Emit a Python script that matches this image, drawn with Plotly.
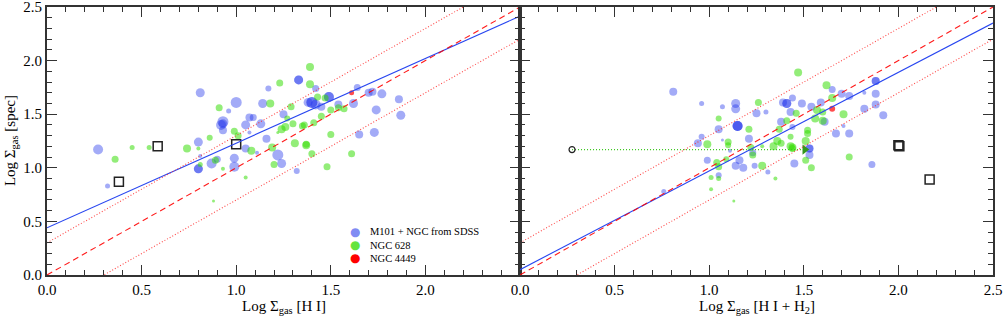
import plotly.graph_objects as go

# ---------------- data ----------------
# Left panel: x = Log Sigma_gas [H I], y = Log Sigma_gas [spec]; w = point weight (marker scale)
hi_sdss_x = [0.27,0.32,0.80,0.81,1.00,0.96,0.93,0.93,0.92,0.93,1.05,1.07,1.09,1.13,1.07,1.14,1.17,1.25,1.33,1.33,
             1.38,1.16,1.05,1.11,1.22,1.24,1.32,0.99,0.90,0.87,0.99,0.80,0.80,0.81,1.42,1.40,1.40,1.49,1.49,1.42,
             1.45,1.54,1.62,1.64,1.70,1.72,1.77,1.86,1.87,1.74,1.65,1.73]
hi_sdss_y = [1.17,0.83,1.24,1.70,1.61,1.53,1.43,1.41,1.40,1.35,1.40,1.47,1.47,1.41,1.33,1.60,1.74,1.50,1.82,1.82,
             1.61,1.27,1.18,1.14,1.12,1.04,0.97,1.09,1.08,1.04,1.01,0.99,0.99,1.11,1.74,1.61,1.61,1.66,1.66,1.59,
             1.57,1.59,1.60,1.75,1.70,1.71,1.69,1.64,1.49,1.54,1.31,1.33]
hi_sdss_w = [1.0,0.5,0.9,0.9,1.1,0.5,1.1,0.9,1.0,0.8,0.9,0.8,0.7,0.9,0.4,0.9,0.6,0.8,0.9,0.9,
             0.9,0.8,0.8,0.4,1.1,0.9,0.6,0.9,0.7,1.0,1.0,0.9,0.9,0.4,0.7,1.1,1.1,1.0,1.0,1.0,
             0.8,0.8,0.9,0.7,0.8,0.8,0.9,0.8,0.9,0.9,0.8,0.9]

hi_n628_x = [0.36,0.45,0.54,0.74,0.80,0.86,0.91,0.99,1.01,1.08,0.81,0.89,0.93,0.88,1.05,1.23,1.18,1.29,1.27,1.26,
             1.24,1.30,1.35,1.22,1.19,1.31,1.37,1.39,1.39,1.43,1.47,1.50,1.54,1.57,1.45,1.41,1.36,1.50,1.37,1.40,
             1.61,1.48,1.20]
hi_n628_y = [1.08,1.19,1.19,1.18,1.18,1.28,1.56,1.34,1.30,1.16,1.03,1.07,0.99,0.69,0.91,1.79,1.60,1.57,1.46,1.38,
             1.36,1.41,1.39,1.33,1.19,1.23,1.21,1.94,1.78,1.66,1.65,1.54,1.56,1.55,1.48,1.42,1.40,1.31,1.22,1.13,
             1.13,1.01,1.03]
hi_n628_w = [0.7,0.5,0.5,0.8,0.4,0.6,0.7,0.7,0.7,0.8,0.5,0.7,0.4,0.3,0.4,0.7,0.8,0.7,0.6,0.8,
             0.8,0.7,0.7,0.3,0.8,0.8,0.8,0.8,0.8,0.7,0.7,0.7,0.7,0.7,0.7,0.7,0.7,0.7,0.7,0.7,
             0.7,0.7,0.7]

hi_n4449_x = [1.61]
hi_n4449_y = [1.70]
hi_n4449_w = [0.5]

hi_box_x = [0.38, 0.585, 1.00]
hi_box_y = [0.87, 1.20, 1.22]

# Right panel: x = Log Sigma_gas [H I + H2], y = Log Sigma_gas [spec]
tot_sdss_x = [0.81,0.96,1.07,1.14,1.14,1.25,1.30,1.41,1.41,1.39,1.43,1.15,1.15,1.15,1.05,1.21,1.07,0.96,0.94,1.23,
              1.38,1.44,1.45,0.99,1.05,1.16,1.14,1.18,1.24,1.31,1.11,1.65,1.88,1.88,1.82,1.88,1.70,1.74,1.59,1.49,
              1.54,1.44,1.82,1.88,1.92,1.71,1.67,1.74,1.61,1.53,1.53,1.53,1.86,0.76]
tot_sdss_y = [1.71,1.60,1.57,1.60,1.55,1.51,1.52,1.60,1.60,1.61,1.52,1.39,1.39,1.39,1.36,1.27,1.26,1.29,1.23,1.14,
              1.43,1.38,1.04,1.07,0.93,1.07,1.02,1.00,1.02,0.96,1.16,1.73,1.81,1.81,1.70,1.69,1.69,1.67,1.61,1.60,
              1.57,1.65,1.55,1.59,1.49,1.39,1.32,1.32,1.43,1.18,1.18,1.12,1.03,0.78]
tot_sdss_w = [0.8,0.5,0.5,0.9,0.9,0.8,0.5,0.9,0.9,0.8,0.8,1.0,1.0,1.0,0.8,0.8,0.3,0.6,0.8,0.7,
              0.8,0.6,0.8,0.7,0.6,0.8,0.8,0.8,0.6,0.5,0.4,0.7,0.8,0.8,0.4,0.8,0.8,0.8,0.8,0.8,
              0.8,0.7,0.8,0.8,0.8,0.4,0.8,0.8,0.8,0.8,0.8,0.8,0.7,0.5]

tot_n628_x = [1.26,1.05,1.21,1.10,1.10,0.99,1.22,1.28,1.47,1.46,1.41,1.37,1.36,1.34,1.38,1.43,1.44,1.43,1.04,1.05,
              1.01,1.05,1.09,1.28,1.35,1.01,1.13,1.62,1.65,1.71,1.57,1.60,1.56,1.60,1.52,1.52,1.51,1.44,1.51,1.54,
              1.74,1.23]
tot_n628_y = [1.61,1.46,1.36,1.24,1.21,1.22,1.19,1.20,1.89,1.51,1.44,1.36,1.25,1.20,1.23,1.20,1.19,1.29,1.05,1.01,
              0.91,0.90,1.08,1.02,0.90,0.80,0.69,1.77,1.65,1.50,1.54,1.52,1.46,1.44,1.35,1.32,1.25,1.18,1.07,1.00,
              1.10,1.12]
tot_n628_w = [0.7,0.6,0.7,0.7,0.6,0.8,0.7,0.4,0.8,0.7,0.7,0.7,0.8,0.8,0.7,0.8,0.8,0.6,0.7,0.7,
              0.5,0.5,0.6,0.8,0.4,0.4,0.3,0.8,0.8,0.8,0.8,0.7,0.8,0.8,0.7,0.7,0.8,0.7,0.7,0.7,
              0.7,0.7]

tot_n4449_x = [1.65]
tot_n4449_y = [1.55]
tot_n4449_w = [0.6]

tot_box_x = [2.00, 2.005, 2.165]
tot_box_y = [1.21, 1.20, 0.89]

# H I-only limit moved to H I + H2 (open circle -> arrow head)
shift_x = [0.275, 1.505]
shift_y = [1.17, 1.17]

# fitted relations (intercept, slope) and one-to-one envelope
fit_hi = (0.44, 0.79)
fit_tot = (0.05, 0.92)
envelope = 0.3
x_span = [0.0, 2.5]

legend_names = ["M101 + NGC from SDSS", "NGC 628", "NGC 4449"]

# ---------------- styling ----------------
BLUE = "rgba(30,50,235,0.58)"
GREEN = "rgba(50,220,0,0.75)"
RED = "rgb(255,0,0)"
AX = "#333333"
FONT = "Liberation Serif"

fig = go.Figure()


def add_points(xs, ys, ws, color, xa, ya):
    fig.add_trace(go.Scatter(
        x=xs, y=ys, mode="markers", xaxis=xa, yaxis=ya, showlegend=False,
        marker=dict(size=ws, sizemode="diameter", sizeref=0.1, color=color, line=dict(width=0))))


def add_lines(fit, xa, ya):
    a, b = fit
    fig.add_trace(go.Scatter(x=x_span, y=[a + b * v for v in x_span], mode="lines",
                             xaxis=xa, yaxis=ya, showlegend=False,
                             line=dict(color="rgb(40,70,240)", width=1.1)))
    fig.add_trace(go.Scatter(x=x_span, y=x_span, mode="lines", xaxis=xa, yaxis=ya, showlegend=False,
                             line=dict(color="rgba(255,0,0,0.9)", width=1.1, dash="6px,4px")))
    for off in (envelope, -envelope):
        fig.add_trace(go.Scatter(x=x_span, y=[v + off for v in x_span], mode="lines",
                                 xaxis=xa, yaxis=ya, showlegend=False,
                                 line=dict(color="rgba(255,40,40,0.85)", width=1.1, dash="1px,2px")))


# left panel
add_points(hi_sdss_x, hi_sdss_y, hi_sdss_w, BLUE, "x", "y")
add_points(hi_n628_x, hi_n628_y, hi_n628_w, GREEN, "x", "y")
add_points(hi_n4449_x, hi_n4449_y, hi_n4449_w, RED, "x", "y")
fig.add_trace(go.Scatter(x=hi_box_x, y=hi_box_y, mode="markers", xaxis="x", yaxis="y", showlegend=False,
                         marker=dict(symbol="square-open", size=9, color="#222", line=dict(width=1.5))))
add_lines(fit_hi, "x", "y")

# right panel
add_points(tot_sdss_x, tot_sdss_y, tot_sdss_w, BLUE, "x2", "y2")
add_points(tot_n628_x, tot_n628_y, tot_n628_w, GREEN, "x2", "y2")
add_points(tot_n4449_x, tot_n4449_y, tot_n4449_w, RED, "x2", "y2")
fig.add_trace(go.Scatter(x=tot_box_x, y=tot_box_y, mode="markers", xaxis="x2", yaxis="y2", showlegend=False,
                         marker=dict(symbol="square-open", size=9, color="#222", line=dict(width=1.5))))
fig.add_trace(go.Scatter(x=shift_x, y=shift_y, mode="lines", xaxis="x2", yaxis="y2", showlegend=False,
                         line=dict(color="rgb(60,200,30)", width=1.2, dash="1px,2px")))
fig.add_trace(go.Scatter(x=shift_x[:1], y=shift_y[:1], mode="markers", xaxis="x2", yaxis="y2", showlegend=False,
                         marker=dict(symbol="circle-open", size=6, color="#222", line=dict(width=1.2))))
fig.add_trace(go.Scatter(x=shift_x[1:], y=shift_y[1:], mode="markers", xaxis="x2", yaxis="y2", showlegend=False,
                         marker=dict(symbol="triangle-right", size=9, color="rgb(50,150,30)")))
add_lines(fit_tot, "x2", "y2")

common = dict(range=[0, 2.5], showgrid=False, zeroline=False, showline=True, linewidth=2, linecolor=AX,
              mirror="ticks", ticks="inside", ticklen=10, tickwidth=1.3, tickcolor=AX, automargin=False,
              ticklabeloverflow="allow",
              tickfont=dict(family=FONT, size=15, color="black"),
              minor=dict(ticks="inside", ticklen=5, tickwidth=1.3, tickcolor=AX, tickmode="linear",
                         tick0=0, dtick=0.1, showgrid=False))

fig.update_layout(
    width=1003, height=318,
    margin=dict(l=47, r=10, t=7, b=43, autoexpand=False),
    paper_bgcolor="white", plot_bgcolor="white",
    showlegend=False,
    xaxis=dict(common, domain=[0, 0.5], anchor="y", tickmode="array",
               tickvals=[0, 0.5, 1.0, 1.5, 2.0], ticktext=["0.0", "0.5", "1.0", "1.5", "2.0"]),
    yaxis=dict(common, domain=[0, 1], anchor="x", tickmode="linear", tick0=0, dtick=0.5, tickformat=".1f"),
    xaxis2=dict(common, domain=[0.5, 1], anchor="y2", tickmode="linear", tick0=0, dtick=0.5, tickformat=".1f"),
    yaxis2=dict(common, domain=[0, 1], anchor="x2", tickmode="linear", tick0=0, dtick=0.5,
                showticklabels=False),
)

title_font = dict(family=FONT, size=15, color="black")
ann = [
    dict(text="Log Σ<sub>gas</sub> [spec]", x=-0.038, y=0.5, textangle=-90),
    dict(text="Log Σ<sub>gas</sub> [H I]", x=0.25, y=-0.118),
    dict(text="Log Σ<sub>gas</sub> [H I + H<sub>2</sub>]", x=0.75, y=-0.118),
]
for a in ann:
    fig.add_annotation(xref="paper", yref="paper", showarrow=False, font=title_font,
                       xanchor="center", yanchor="middle", **a)

leg_y = [0.1616, 0.1119, 0.0623]
leg_c = [BLUE, GREEN, RED]
for name, yy, col in zip(legend_names, leg_y, leg_c):
    fig.add_annotation(xref="paper", yref="paper", x=0.3256, y=yy, showarrow=False,
                       text="●", font=dict(family="DejaVu Sans", size=12, color=col),
                       xanchor="center", yanchor="middle")
    fig.add_annotation(xref="paper", yref="paper", x=0.3393, y=yy, showarrow=False,
                       text=name, font=dict(family=FONT, size=10.5, color="black"),
                       xanchor="left", yanchor="middle")

# the default page body has an 8px margin; remove it so the 1003x318 figure fills the window
fig.write_html("out.html", config={"displayModeBar": False},
               post_script="document.body.style.margin='0';document.body.style.overflow='hidden';")
